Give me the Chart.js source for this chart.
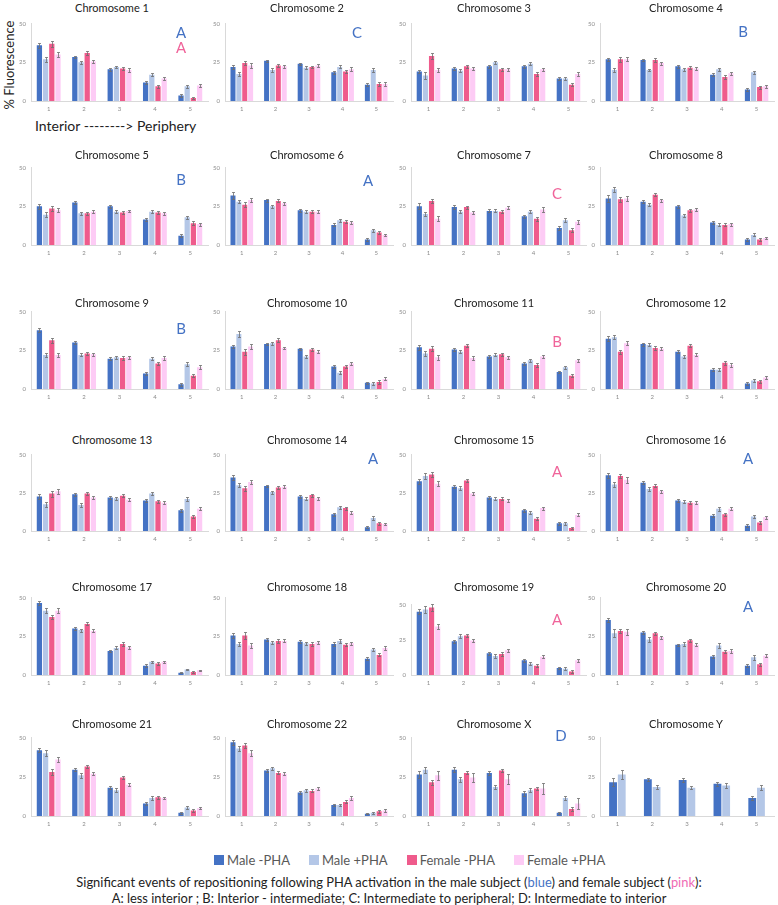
<!DOCTYPE html>
<html>
<head>
<meta charset="utf-8">
<script src="https://cdn.jsdelivr.net/npm/chart.js@4.4.0/dist/chart.umd.min.js"></script>
<style>
  body { margin: 0; width: 778px; height: 905px; background: #fff; position: relative; overflow: hidden; font-family: Lato, "Open Sans", sans-serif; color: #222; }
  .panel { position: absolute; }
  .titulo { position: absolute; font-size: 11px; white-space: nowrap; transform: translate(-50%, -50%); }
  .letra { position: absolute; font-size: 15px; transform: translate(-50%, -50%); }
  #ylab { position: absolute; left: 9px; top: 65px; font-size: 13px; transform: translate(-50%, -50%) rotate(-90deg); white-space: nowrap; }
  #dir { position: absolute; left: 35px; top: 117px; font-size: 14px; white-space: nowrap; }
  #leyenda { position: absolute; left: 214px; top: 852px; display: flex; font-size: 13px; color: #595959; white-space: nowrap; }
  #leyenda span.item { display: flex; align-items: center; margin-right: 19px; }
  #leyenda i { display: inline-block; width: 10px; height: 10px; margin-right: 3px; }
  .nota { position: absolute; left: 389px; transform: translateX(-50%); font-size: 12.9px; white-space: nowrap; }
</style>
</head>
<body>
<div id="ylab">% Fluorescence</div>
<div id="dir">Interior --------&gt; Periphery</div>
<div id="leyenda"></div>
<div class="nota" style="top:874px">Significant events of repositioning following PHA activation in the male subject (<span style="color:#4472C4">blue</span>) and female subject (<span style="color:#F06AB4">pink</span>):</div>
<div class="nota" style="top:890px">A: less interior ; B: Interior - intermediate; C: Intermediate to peripheral; D: Intermediate to interior</div>

<script>
const chromosomes = ['1', '2', '3', '4', '5', '6', '7', '8', '9', '10', '11', '12',
  '13', '14', '15', '16', '17', '18', '19', '20', '21', '22', 'X', 'Y'];
const shells = ['1', '2', '3', '4', '5'];
const yTicks = [0, 25, 50];
const seriesNames = ['Male -PHA', 'Male +PHA', 'Female -PHA', 'Female +PHA'];

const maleMinus = [
  [36, 28.5, 20.5, 12, 3.5], [22, 26, 24, 18.5, 10.5], [19, 21, 22.5, 22.5, 14.5], [27, 26.5, 22.5, 17, 7.5],
  [25, 27.5, 25, 16.5, 6], [32, 29, 22.5, 13, 3.5], [25, 24.5, 22, 18.5, 11], [30, 28, 25, 14.5, 3.5],
  [38, 30, 19.5, 10, 3], [27.5, 29, 26, 14.5, 4], [27, 25.5, 21, 16.5, 11], [32.5, 29, 24, 12.5, 3.5],
  [22.5, 24, 22, 20, 13.5], [35, 29.5, 22.5, 11, 2.5], [32.5, 29, 22, 13.5, 5], [36.5, 31.5, 20, 10, 3.5],
  [46.5, 30, 15.5, 6, 1.5], [25.5, 23, 21.5, 20, 10.5], [45, 24, 15.5, 10.5, 5], [35.5, 27.5, 19.5, 12, 6],
  [42, 29.5, 18, 8, 2], [47, 29, 15, 7, 1.5], [26.5, 29.5, 27.5, 14.5, 2], [21.5, 23.5, 23, 20.5, 11.5]
];
const malePlus = [
  [27, 25, 22, 17, 9.5], [17.5, 20, 21.5, 22, 20], [16.5, 19.5, 25, 24, 14.5], [20, 20, 20.5, 20.5, 18.5],
  [19.5, 20.5, 21.5, 21.5, 18], [28, 25, 21.5, 16, 9.5], [20, 21.5, 22, 21.5, 16], [36, 26, 19, 13, 6.5],
  [22, 22, 20.5, 19.5, 16], [35.5, 29.5, 21, 10.5, 3.5], [23, 24, 22, 18.5, 14], [33.5, 28.5, 21, 12.5, 5.5],
  [17.5, 17, 21.5, 24.5, 21], [30, 25.5, 21, 15.5, 8.5], [36, 28, 21, 12, 5], [30.5, 27.5, 19, 14.5, 9.5],
  [41.5, 29, 17.5, 8.5, 3.5], [20, 21, 20.5, 22, 16.5], [46.5, 27.5, 13.5, 8, 4.5], [27, 23, 20, 19, 11.5],
  [40, 26, 16.5, 11.5, 5.5], [43, 30.5, 16.5, 7, 2], [29.5, 23.5, 18.5, 16.5, 11.5], [26.5, 18.5, 18, 19.5, 18]
];
const femaleMinus = [
  [37, 31, 21, 9.5, 2], [24.5, 23, 22, 19, 11], [29, 22.5, 20.5, 17.5, 10.5], [27, 26.5, 21.5, 15.5, 9],
  [23.5, 20.5, 21, 21, 14], [26, 28.5, 21.5, 15, 8], [28.5, 24.5, 21.5, 17, 9.5], [29.5, 32.5, 22.5, 13, 3.5],
  [31.5, 23, 20, 16.5, 8.5], [24, 31.5, 25.5, 14.5, 4.5], [26, 28, 22.5, 15.5, 8.5], [24, 26.5, 28, 17, 5],
  [24.5, 24.5, 23, 19.5, 9.5], [28, 28.5, 23.5, 15, 5], [37, 33, 21, 8, 2], [36, 29.5, 18.5, 11, 5.5],
  [37.5, 33, 20, 7.5, 2], [25.5, 22, 20, 19.5, 13], [48, 28, 15, 6.5, 2.5], [28.5, 27, 22.5, 15, 7],
  [28, 31.5, 24.5, 12, 3.5], [45, 27.5, 16, 9, 3], [21.5, 27.5, 29, 17.5, 4.5], null
];
const femalePlus = [
  [30, 25.5, 20, 14.5, 10], [23, 22.5, 23, 20.5, 11], [20, 21, 20.5, 20.5, 17.5], [27, 24.5, 21, 18, 9.5],
  [22.5, 21.5, 22, 20.5, 13.5], [29, 27, 21.5, 14.5, 6.5], [17, 21, 24, 23, 15], [30, 29, 23, 13.5, 4.5],
  [22, 22.5, 20.5, 20, 14], [27.5, 26.5, 24, 16.5, 6.5], [20.5, 20, 20.5, 21, 18.5], [29.5, 26, 22, 15.5, 7.5],
  [26, 22, 20.5, 18.5, 14.5], [32, 29, 21.5, 12, 4.5], [31, 24.5, 20, 15, 10.5], [33.5, 26, 18.5, 14.5, 9],
  [41.5, 28.5, 18, 8.5, 3], [19, 22, 21, 20.5, 17.5], [34.5, 24.5, 17.5, 13, 10.5], [28, 24.5, 19.5, 15.5, 12.5],
  [36, 27, 20, 11.5, 5], [40, 27, 17.5, 11.5, 3.5], [26, 24.5, 23.5, 17.5, 8], null
];

const maleMinusErr = [
  [1.5, 0.8, 1, 1, 0.7], [1.5, 0.8, 0.8, 1, 1], [1, 1, 1, 1, 0.8], [1, 0.8, 1, 1, 0.8],
  [1.5, 1, 1, 1, 0.8], [2, 1, 1, 1, 0.8], [2, 1.2, 1, 1.2, 1.2], [2, 1, 1, 1, 0.8],
  [1.5, 1, 1, 1, 0.8], [1, 0.8, 0.8, 1, 0.8], [1.5, 1, 1, 1, 0.8], [1.5, 1, 1, 1, 0.8],
  [1.5, 1, 0.8, 1, 1], [1.5, 0.8, 1, 1, 0.8], [1.5, 1, 1, 1, 0.8], [1.5, 1, 1, 0.8, 0.8],
  [1.5, 1, 0.8, 0.8, 0.5], [1.5, 1, 1, 1, 1], [2, 1, 1, 1, 0.8], [1.5, 0.8, 0.8, 1, 0.8],
  [1.5, 1, 1, 0.8, 0.5], [1.5, 1, 0.8, 0.8, 0.5], [2.5, 1.5, 1.5, 1.5, 0.5], [2.5, 1, 1, 1.5, 1]
];
const malePlusErr = [
  [1.5, 0.8, 0.8, 1, 1], [1.5, 1, 0.8, 1, 1.2], [2, 1, 1, 1, 1], [1, 0.8, 0.8, 1, 1],
  [1.5, 1, 1, 1, 1], [1, 1, 1, 1, 0.8], [1.5, 1, 1, 1, 1.2], [1.5, 1, 1, 1, 1],
  [1.5, 1, 1, 1, 1.2], [2, 1, 1, 1, 0.8], [1.5, 1, 1, 1, 1], [1.2, 1, 1, 0.8, 0.8],
  [1.5, 1, 1, 1, 1.2], [1.2, 1, 1, 1, 1], [2, 1.2, 1, 1.2, 0.8], [1.5, 1.2, 1, 1.2, 1],
  [1.5, 1, 1, 0.8, 0.5], [1.5, 1.2, 1, 1.2, 1.2], [2.5, 1.5, 1.2, 1.2, 1], [2.5, 1.5, 1.5, 1.5, 1.5],
  [2, 1.5, 1.2, 1.2, 1], [1.5, 1, 1, 0.8, 0.5], [2, 1.5, 1, 1.5, 1.5], [3, 1, 1, 1.5, 1.5]
];
const femaleMinusErr = [
  [2, 1, 1, 1, 0.5], [1.5, 1, 0.8, 1, 1], [2, 1, 1, 1.2, 1], [1.5, 1, 1, 1, 1],
  [1.5, 1, 1, 1.2, 1.2], [1.5, 1, 1, 1, 1], [1.5, 1, 1, 1.2, 1.2], [1.5, 1, 1, 1, 0.8],
  [1.5, 1, 1, 1.2, 1], [2, 1.2, 1, 1, 1], [1.5, 1, 1, 1, 1], [1.2, 1.2, 1, 1.2, 1],
  [2, 1.2, 1, 1, 0.8], [1.5, 1, 1, 1, 1], [1.5, 1, 1, 1, 0.5], [1.5, 1, 1, 1, 1],
  [1.5, 1, 1, 1, 0.8], [2, 1.2, 1, 1, 1], [2.5, 1.2, 1.2, 1, 1], [1.5, 1, 1, 1, 1],
  [2, 1, 1, 1, 0.8], [1.5, 1, 1, 1, 1], [1.5, 1, 1, 1, 1], null
];
const femalePlusErr = [
  [1.5, 1, 1, 1, 1], [1.5, 1, 1, 1.2, 1], [1.5, 1, 0.8, 1, 1.2], [1.2, 1, 1, 1, 1],
  [1.5, 1, 0.8, 1, 1], [1.2, 1, 1, 1, 0.8], [1.5, 1, 1, 1.5, 1.2], [1.5, 1, 1, 1, 0.8],
  [1.5, 1, 0.8, 1.2, 1.2], [1.5, 0.8, 1, 1, 1], [1.5, 1, 1, 1, 1.2], [1.2, 1, 1, 1.2, 1],
  [1.5, 1, 1, 1, 1], [1.5, 1, 1, 1, 0.8], [1.5, 0.8, 1, 1, 1], [2, 1, 1, 1, 1],
  [1.5, 1, 1, 0.8, 0.5], [1.5, 1, 0.8, 1, 1.2], [1.5, 1, 1, 1, 1.2], [2, 1, 1, 1, 1],
  [1.5, 0.8, 0.8, 0.8, 0.8], [2, 1, 1, 1, 0.8], [3, 3, 3, 3.5, 3.5], null
];

// letras de reposicionamiento: [macho, hembra]
const eventos = [
  ['A', 'A'], ['C', ''], ['', ''], ['B', ''], ['B', ''], ['A', ''], ['', 'C'], ['', ''],
  ['B', ''], ['', ''], ['', 'B'], ['', ''], ['', ''], ['A', ''], ['', 'A'], ['A', ''],
  ['', ''], ['', ''], ['', 'A'], ['A', ''], ['', ''], ['', ''], ['D', ''], ['', '']
];

const colores = ['#4472C4', '#B4C7E7', '#EF5B8C', '#FDCBF5'];
const azulLetra = '#4472C4', rosaLetra = '#F0649A';

// layout
const colL = [31, 225, 411, 600];
const colR = [208, 393, 586, 774];
const rowT = [20, 164, 308, 451, 594, 734];
const rowB = [101, 245, 389, 531, 675, 816];
const tituloX = [112, 307, 494, 686];
const tituloY = [7, 154, 302, 439, 586, 723];
const letraPos = {
  0: [[181, 32], [181, 47]], 1: [[357, 32]], 3: [[743, 31]], 4: [[181, 179]], 5: [[368, 180]],
  6: [[557, 193]], 8: [[181, 328]], 10: [[557, 341]], 13: [[373, 458]], 14: [[557, 471]],
  15: [[748, 458]], 18: [[557, 619]], 19: [[748, 606]], 22: [[561, 735]]
};

// leyenda
const leyenda = document.getElementById('leyenda');
seriesNames.forEach((n, k) => {
  const s = document.createElement('span');
  s.className = 'item';
  s.innerHTML = '<i style="background:' + colores[k] + '"></i>' + n;
  leyenda.appendChild(s);
});

const barrasError = {
  id: 'barrasError',
  afterDatasetsDraw(chart) {
    const ctx = chart.ctx;
    const y = chart.scales.y;
    chart.data.datasets.forEach((ds, d) => {
      const meta = chart.getDatasetMeta(d);
      meta.data.forEach((bar, k) => {
        const v = ds.data[k], e = ds.err[k];
        const top = Math.round(y.getPixelForValue(v + e)) + 0.5;
        const bot = Math.round(y.getPixelForValue(v - e)) + 0.5;
        const x = Math.round(bar.x) + 0.5;
        ctx.save();
        ctx.strokeStyle = '#6f6f6f';
        ctx.lineWidth = 0.8;
        ctx.beginPath();
        ctx.moveTo(x, top); ctx.lineTo(x, bot);
        ctx.moveTo(x - 1.5, top); ctx.lineTo(x + 1.5, top);
        ctx.moveTo(x - 1.5, bot); ctx.lineTo(x + 1.5, bot);
        ctx.stroke();
        ctx.restore();
      });
    });
  }
};

chromosomes.forEach((nombre, i) => {
  const c = i % 4, r = Math.floor(i / 4);
  const top = (i === 18) ? 601 : rowT[r];
  const izq = 18, arriba = 5, abajo = 14;
  const w = colR[c] - colL[c] + izq + 2;
  const h = rowB[r] - top + arriba + abajo;

  const div = document.createElement('div');
  div.className = 'panel';
  div.style.left = (colL[c] - izq) + 'px';
  div.style.top = (top - arriba) + 'px';
  const cv = document.createElement('canvas');
  cv.width = w; cv.height = h;
  cv.style.width = w + 'px'; cv.style.height = h + 'px';
  div.appendChild(cv);
  document.body.appendChild(div);

  const t = document.createElement('div');
  t.className = 'titulo';
  t.style.left = tituloX[c] + 'px';
  t.style.top = tituloY[r] + 'px';
  t.textContent = 'Chromosome ' + nombre;
  document.body.appendChild(t);

  (eventos[i] || []).forEach((l, k) => {
    if (!l) return;
    const p = letraPos[i][k] || letraPos[i][0];
    const d = document.createElement('div');
    d.className = 'letra';
    d.style.left = p[0] + 'px';
    d.style.top = p[1] + 'px';
    d.style.color = k === 0 ? azulLetra : rosaLetra;
    d.textContent = l;
    document.body.appendChild(d);
  });

  const series = [maleMinus, malePlus, femaleMinus, femalePlus];
  const errores = [maleMinusErr, malePlusErr, femaleMinusErr, femalePlusErr];
  const datasets = [];
  series.forEach((s, k) => {
    if (!s[i]) return;
    datasets.push({ label: seriesNames[k], data: s[i], err: errores[k][i], backgroundColor: colores[k], borderWidth: 0 });
  });
  const soloDos = datasets.length === 2;

  new Chart(cv.getContext('2d'), {
    type: 'bar',
    data: { labels: shells, datasets: datasets },
    plugins: [barrasError],
    options: {
      responsive: false,
      animation: false,
      devicePixelRatio: 1,
      layout: { padding: { top: arriba, right: 2, left: 0, bottom: 0 } },
      datasets: { bar: { categoryPercentage: soloDos ? 0.5 : 0.7, barPercentage: soloDos ? 0.9 : 0.85 } },
      plugins: { legend: { display: false }, tooltip: { enabled: false }, title: { display: false } },
      scales: {
        x: {
          grid: { display: false, drawTicks: false },
          border: { display: true, color: '#d9d9d9' },
          ticks: { font: { size: 6, family: 'Lato' }, color: '#8c8c8c', padding: 4 },
          afterFit: s => { s.height = abajo; }
        },
        y: {
          min: 0, max: 50,
          afterBuildTicks: s => { s.ticks = yTicks.map(v => ({ value: v })); },
          grid: { display: false, drawTicks: false },
          border: { display: true, color: '#d9d9d9' },
          ticks: { font: { size: 6, family: 'Lato' }, color: '#8c8c8c', padding: 5 },
          afterFit: s => { s.width = izq; }
        }
      }
    }
  });
});
</script>
</body>
</html>
